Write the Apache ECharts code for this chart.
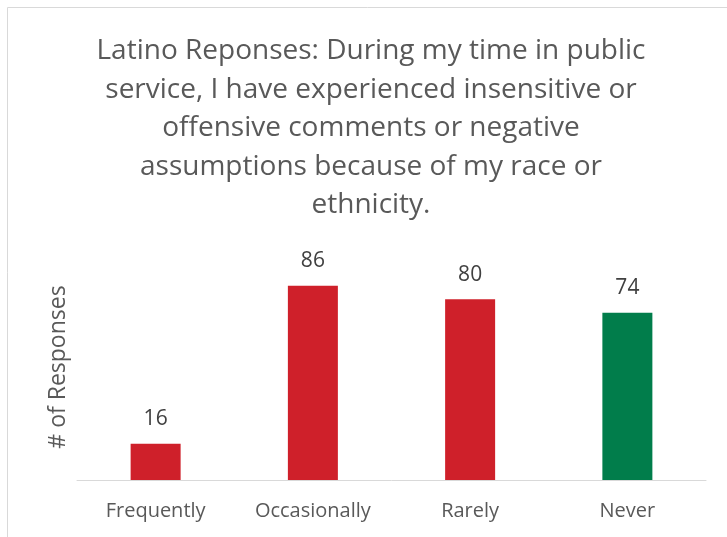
<!DOCTYPE html>
<html>
<head>
<meta charset="utf-8">
<script src="https://cdn.jsdelivr.net/npm/echarts@6/dist/echarts.min.js"></script>
<style>html,body{margin:0;padding:0;background:#fff}#c{width:727px;height:537px}</style>
</head>
<body>
<div id="c"></div>
<script>
const categories = ['Frequently', 'Occasionally', 'Rarely', 'Never'];
const values = [16, 86, 80, 74];
const barColors = ['#CF202A', '#CF202A', '#CF202A', '#017D4B'];
const titleLines = [
  'Latino Reponses: During my time in public',
  'service, I have experienced insensitive or',
  'offensive comments or negative',
  'assumptions because of my race or',
  'ethnicity.'
];
const yAxisName = '# of Responses';

const chart = echarts.init(document.getElementById('c'));
chart.setOption({
  animation: false,
  graphic: [{
    type: 'rect', left: 5, top: 5, shape: { width: 800, height: 600 },
    style: { fill: 'none', stroke: '#d9d9d9', lineWidth: 1 }, silent: true
  }, {
    type: 'text', x: 371, y: 32, silent: true,
    style: {
      text: titleLines.join('\n'), textAlign: 'center', align: 'center', verticalAlign: 'top',
      fontFamily: 'Open Sans', fontSize: 28, fill: '#595959', lineHeight: 38.5
    }
  }],
  grid: { left: 77, right: 21, top: 254, bottom: 57 },
  xAxis: {
    type: 'category', data: categories,
    axisLine: { lineStyle: { color: '#d9d9d9', width: 1 } },
    axisTick: { show: false },
    axisLabel: { interval: 0, color: '#595959', fontFamily: 'Open Sans', fontSize: 20, margin: 21 }
  },
  yAxis: {
    type: 'value', min: 0, max: 100,
    name: yAxisName, nameLocation: 'middle', nameGap: 7,
    nameTextStyle: { color: '#595959', fontFamily: 'Open Sans', fontSize: 23 },
    axisLabel: { show: false }, axisLine: { show: false }, axisTick: { show: false },
    splitLine: { show: false }
  },
  series: [{
    type: 'bar', barWidth: 50,
    data: values.map((v, i) => ({ value: v, itemStyle: { color: barColors[i] } })),
    label: { show: true, position: 'top', distance: 14, color: '#404040', fontFamily: 'Open Sans', fontSize: 21 }
  }]
});
</script>
</body>
</html>
